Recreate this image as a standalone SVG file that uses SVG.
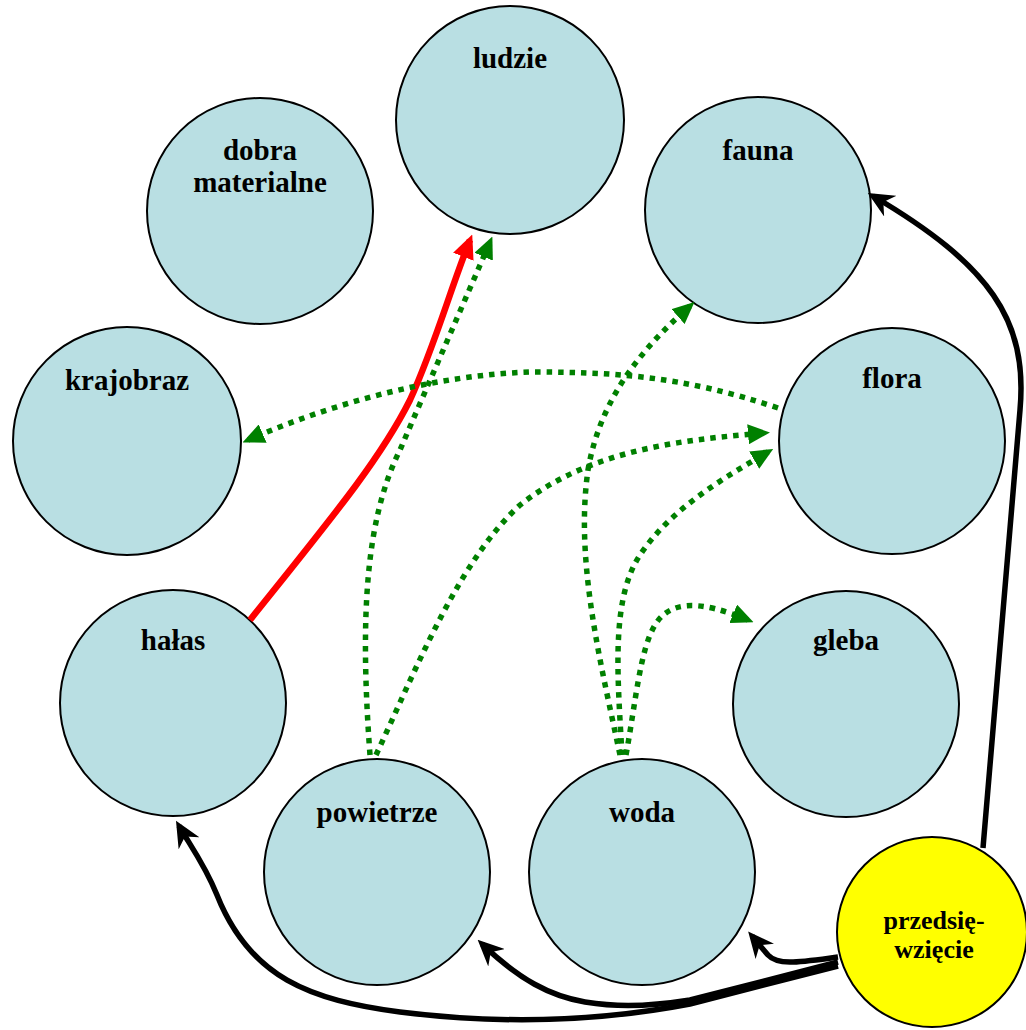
<svg xmlns="http://www.w3.org/2000/svg" width="1026" height="1030" viewBox="0 0 1026 1030">
<defs>
<style>
.node{fill:#b9dfe3;stroke:#000;stroke-width:2}
.main{fill:#ffff00;stroke:#000;stroke-width:2}
.lbl{font-family:"Liberation Serif","Times New Roman",serif;font-weight:bold;font-size:29px;fill:#000;text-anchor:middle}
.lbl2{font-size:26px}
.g{fill:none;stroke:#008000;stroke-width:5.5;stroke-dasharray:5.5 6}
.k{fill:none;stroke:#000;stroke-width:5.5}
.r{fill:none;stroke:#ff0000;stroke-width:6.5}
</style>
<marker id="ag" markerUnits="userSpaceOnUse" markerWidth="22" markerHeight="20" viewBox="0 0 22 20" refX="16" refY="10" orient="auto">
<path d="M0,0 L22,10 L0,20 z" fill="#008000"/>
</marker>
<marker id="ar" markerUnits="userSpaceOnUse" markerWidth="24" markerHeight="22" viewBox="0 0 24 22" refX="18" refY="11" orient="auto">
<path d="M0,0 L24,11 L0,22 z" fill="#ff0000"/>
</marker>
<marker id="ak" markerUnits="userSpaceOnUse" markerWidth="26" markerHeight="24" viewBox="0 0 26 24" refX="20" refY="12" orient="auto">
<path d="M0,0 L26,12 L0,24 L8,12 z" fill="#000"/>
</marker>
</defs>
<rect width="1026" height="1030" fill="#fff"/>
<g id="n-ludzie"><circle class="node" cx="510" cy="120" r="114"/><text class="lbl" x="510" y="68">ludzie</text></g>
<g id="n-dobra"><circle class="node" cx="260" cy="211" r="113"/><text class="lbl" x="260" y="160">dobra</text><text class="lbl" x="260" y="192">materialne</text></g>
<g id="n-fauna"><circle class="node" cx="758" cy="210" r="113"/><text class="lbl" x="758" y="160">fauna</text></g>
<g id="n-krajobraz"><circle class="node" cx="127" cy="441" r="114"/><text class="lbl" x="127" y="390">krajobraz</text></g>
<g id="n-flora"><circle class="node" cx="892" cy="441" r="113"/><text class="lbl" x="892" y="388">flora</text></g>
<g id="n-halas"><circle class="node" cx="173" cy="703" r="113"/><text class="lbl" x="173" y="650">hałas</text></g>
<g id="n-gleba"><circle class="node" cx="846" cy="704" r="113"/><text class="lbl" x="846" y="650">gleba</text></g>
<g id="n-powietrze"><circle class="node" cx="377" cy="872" r="113"/><text class="lbl" x="377" y="822">powietrze</text></g>
<g id="n-woda"><circle class="node" cx="642" cy="872" r="113"/><text class="lbl" x="642" y="822">woda</text></g>
<g id="n-przedsiewziecie"><circle class="main" cx="932" cy="932" r="95"/><text class="lbl lbl2" x="934" y="929">przedsię-</text><text class="lbl lbl2" x="934" y="958">wzięcie</text></g>
<g id="connectors">
<path class="r" d="M250,620 C 330,520 380,460 410,400 C 435,345 450,290 470,240" marker-end="url(#ar)"/>
<path class="g" d="M370,755 C 360,620 365,520 400,450 C 430,380 465,300 490,242" marker-end="url(#ag)"/>
<path class="g" d="M376,755 C 420,660 460,560 520,505 C 590,450 680,440 764,433" marker-end="url(#ag)"/>
<path class="g" d="M620,755 C 600,660 575,560 588,470 C 600,400 640,350 690,306" marker-end="url(#ag)"/>
<path class="g" d="M622,755 C 618,680 610,600 640,555 C 670,510 720,480 768,452" marker-end="url(#ag)"/>
<path class="g" d="M626,755 C 636,700 640,650 655,625 C 670,600 700,600 748,620" marker-end="url(#ag)"/>
<path class="g" d="M778,408 C 680,375 610,372 530,372 C 440,375 340,400 248,440" marker-end="url(#ag)"/>
<path class="k" d="M983,848 L 1020,410 C 1028,320 990,265 873,196" marker-end="url(#ak)"/>
<path class="k" d="M838,957 C 800,962 778,966 768,955 C 762,948 757,942 752,936" marker-end="url(#ak)"/>
<path class="k" stroke-width="6" d="M838,962 L 690,1000 C 640,1008 610,1006 585,1002 C 550,996 520,980 482,944" marker-end="url(#ak)"/>
<path class="k" stroke-width="6" d="M838,966 L 690,1004 C 580,1025 480,1022 400,1012 C 310,1000 250,978 217,895 C 205,865 190,845 179,826" marker-end="url(#ak)"/>
</g>
</svg>
